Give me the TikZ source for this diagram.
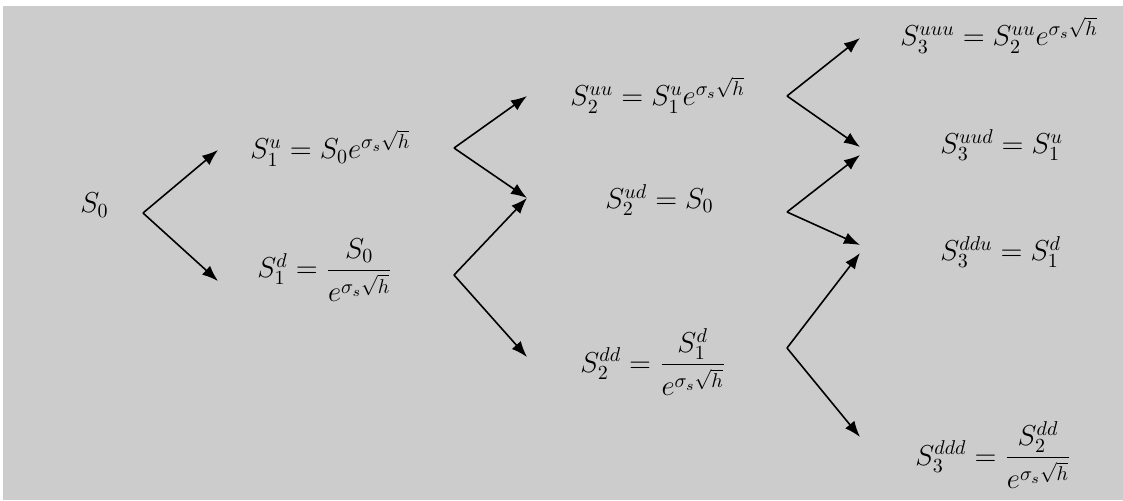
\documentclass[tikz,border=0pt]{standalone}
\usepackage{amsmath}
\usetikzlibrary{arrows.meta}
\definecolor{bggray}{HTML}{CCCCCC}
\begin{document}
\begin{tikzpicture}[x=0.5pt,y=-0.5pt,
  lbl/.style={anchor=west,inner sep=0pt,font=\fontsize{14}{17}\selectfont},
  arr/.style={line width=0.8pt,-{Latex[length=8pt,width=6pt]}}]
\useasboundingbox (0,0) rectangle (1123,500);
\fill[white] (0,0) rectangle (1123,500);
\fill[bggray] (3,6) rectangle (1123,500);
% labels
\node[lbl] (s0) at (80,205) {$S_0$};
\node[lbl] (s1u) at (250,148) {$S_1^{u}=S_0e^{\sigma_s\sqrt{h}}$};
\node[lbl] (s1d) at (257,270) {$S_1^{d}=\dfrac{S_0}{e^{\sigma_s\sqrt{h}}}$};
\node[lbl] (s2uu) at (570,95) {$S_2^{uu}=S_1^{u}e^{\sigma_s\sqrt{h}}$};
\node[lbl] (s2ud) at (605,200) {$S_2^{ud}=S_0$};
\node[lbl] (s2dd) at (580,362) {$S_2^{dd}=\dfrac{S_1^{d}}{e^{\sigma_s\sqrt{h}}}$};
\node[lbl] (s3uuu) at (900,35) {$S_3^{uuu}=S_2^{uu}e^{\sigma_s\sqrt{h}}$};
\node[lbl] (s3uud) at (940,145) {$S_3^{uud}=S_1^{u}$};
\node[lbl] (s3ddu) at (940,252) {$S_3^{ddu}=S_1^{d}$};
\node[lbl] (s3ddd) at (915,455) {$S_3^{ddd}=\dfrac{S_2^{dd}}{e^{\sigma_s\sqrt{h}}}$};
% fork vertices and tips
\coordinate (v1) at (143,213);
\coordinate (t1u) at (218,150);
\coordinate (t1d) at (218,281);
\coordinate (v2a) at (454,148);
\coordinate (v2b) at (454,275);
\coordinate (t2uu) at (527,96);
\coordinate (t2ud) at (527,198);
\coordinate (t2dd) at (527,357);
\coordinate (v3a) at (787,96);
\coordinate (v3b) at (787,212);
\coordinate (v3c) at (787,348);
\coordinate (t3uuu) at (860,38);
\coordinate (t3uud) at (860,147);
\coordinate (t3uudb) at (860,155);
\coordinate (t3ddu) at (860,245);
\coordinate (t3ddub) at (860,253);
\coordinate (t3ddd) at (860,437);
% connectors
\draw[arr] (v1) -- (t1u);
\draw[arr] (v1) -- (t1d);
\draw[arr] (v2a) -- (t2uu);
\draw[arr] (v2a) -- (t2ud);
\draw[arr] (v2b) -- (t2ud);
\draw[arr] (v2b) -- (t2dd);
\draw[arr] (v3a) -- (t3uuu);
\draw[arr] (v3a) -- (t3uud);
\draw[arr] (v3b) -- (t3uudb);
\draw[arr] (v3b) -- (t3ddu);
\draw[arr] (v3c) -- (t3ddub);
\draw[arr] (v3c) -- (t3ddd);
\end{tikzpicture}
\end{document}
